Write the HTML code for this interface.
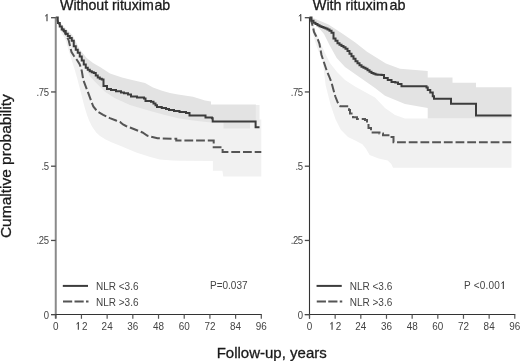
<!DOCTYPE html>
<html><head><meta charset="utf-8"><style>
html,body{margin:0;padding:0;background:#fff;}
svg{display:block;filter:grayscale(1);}
.t{font-family:"Liberation Sans",sans-serif;font-size:10.8px;fill:#444;}
.yt{letter-spacing:-0.4px;}
.l{font-family:"Liberation Sans",sans-serif;font-size:10px;fill:#444;}
.h{font-family:"Liberation Sans",sans-serif;font-size:15px;fill:#1a1a1a;stroke:#1a1a1a;stroke-width:0.3px;}
.ti{font-family:"Liberation Sans",sans-serif;font-size:14.2px;fill:#1a1a1a;stroke:#1a1a1a;stroke-width:0.3px;}
.yl{font-family:"Liberation Sans",sans-serif;font-size:15.5px;fill:#1a1a1a;stroke:#1a1a1a;stroke-width:0.3px;}
</style></head><body>
<svg width="520" height="361" viewBox="0 0 520 361">
<rect width="520" height="361" fill="#fff"/>
<polygon points="55.75,17.50 60.00,22.00 66.00,30.00 72.00,38.00 78.00,48.00 84.00,58.00 89.70,70.00 95.00,77.00 105.00,88.00 115.00,95.00 130.00,102.00 140.00,105.00 153.00,109.00 178.00,114.00 193.00,116.00 212.70,119.50 261.30,119.50 261.30,176.40 223.30,176.40 222.40,170.70 212.90,170.70 212.90,161.10 180.00,160.80 172.50,160.50 159.70,159.40 150.30,157.00 142.50,154.50 136.20,152.40 122.00,146.50 112.00,142.50 105.60,139.40 100.00,136.00 96.20,132.40 92.00,126.50 89.10,120.60 87.00,115.00 85.00,108.50 83.50,103.00 82.00,97.00 80.20,90.00 77.30,78.80 74.50,69.00 71.50,59.40 68.50,50.00 65.70,40.00 61.00,32.00 57.50,23.00 55.75,17.50" fill="#f1f1f1"/>
<polygon points="309.50,17.50 312.00,22.00 316.00,32.00 320.00,42.00 325.00,53.00 330.00,63.00 337.00,72.00 345.00,80.00 355.00,86.40 365.00,92.00 375.00,97.50 385.00,108.00 395.00,115.00 405.00,118.50 511.50,118.50 511.50,167.70 393.00,167.70 391.30,164.00 387.70,160.50 378.60,158.60 369.60,155.00 366.00,148.70 362.40,144.20 355.20,140.60 348.00,137.00 340.80,129.80 335.40,119.00 330.50,104.60 325.70,85.50 322.50,60.00 318.00,50.00 314.00,38.00 311.00,25.00 309.50,17.50" fill="#f1f1f1"/>
<polygon points="55.75,17.50 63.00,26.00 72.80,35.80 79.70,49.60 86.60,58.00 93.00,63.00 100.00,67.00 110.00,73.50 122.00,77.50 130.00,79.40 145.00,83.00 153.00,87.50 162.00,90.80 170.00,92.90 178.00,94.50 193.00,96.75 205.00,100.50 211.00,101.50 211.00,104.60 255.90,104.60 255.90,122.60 250.00,122.60 250.00,128.50 223.50,128.50 223.50,122.50 211.00,122.50 193.00,120.50 178.00,118.30 165.00,115.00 153.00,111.75 140.00,108.00 130.00,105.00 115.00,98.30 105.00,91.70 95.00,81.70 89.70,76.00 84.00,63.00 78.00,53.00 72.00,43.00 66.00,34.00 60.00,25.00 55.75,17.50" fill="#e3e3e3"/>
<polygon points="309.50,17.50 314.40,18.50 328.50,24.40 342.60,33.80 355.30,42.40 367.00,51.80 385.90,63.50 400.00,68.80 427.70,71.00 427.70,77.50 452.50,77.50 452.50,82.70 476.00,82.70 476.00,87.30 511.50,87.30 511.50,118.50 427.70,118.50 427.70,108.00 405.00,104.00 385.00,95.80 375.00,88.00 365.00,81.00 355.00,74.00 345.00,67.00 336.70,58.00 330.00,46.00 324.00,34.00 318.00,27.00 312.00,22.00 309.50,17.50" fill="#e3e3e3"/>
<rect x="255.9" y="105" width="3.6" height="16.6" fill="#ececec"/>
<path d="M55.75,17.50L58.00,22.00L62.00,28.00L65.00,33.00L67.00,37.00L68.60,40.00L70.00,46.00L71.50,52.00L74.00,56.00L77.00,60.00L79.50,64.00L81.00,68.00L81.80,71.00L83.30,80.00L85.80,86.60L88.30,93.20L90.80,99.90L93.30,106.50L97.40,111.50L103.20,114.80L109.90,118.10L116.00,120.50L120.00,122.00L123.00,124.50L126.00,126.00L130.00,127.50L135.00,129.50L142.50,132.50L147.50,135.75L157.50,138.25L172.50,138.75H176.25V140.50H213.70V147.30H222.60V152.10H261.30V152.10" fill="none" stroke="#555555" stroke-width="2" stroke-dasharray="8.8 2.9"/>
<path d="M309.50,17.50L311.00,20.00L313.00,27.00L314.00,32.00L316.00,36.00L318.00,40.00L319.50,44.00L321.50,55.00L324.00,62.50L326.50,70.00L329.00,76.00L331.50,82.50L333.50,90.00L335.25,96.25L337.75,102.50L340.25,106.25H347.75V106.25H349.00V110.00H350.00V113.60H353.00V117.20H357.00V119.00H365.00V120.00H367.00V123.50H368.50V128.00H371.00V132.50H379.50V133.40H383.00V135.20H389.50V137.00H393.50V142.20H511.50V142.20" fill="none" stroke="#555555" stroke-width="2" stroke-dasharray="8.8 2.9"/>
<path d="M55.75,17.50H57.75V23.12H59.75V26.50H61.75V29.38H63.75V30.94H65.75V33.75H67.75V36.00H69.75V38.00H71.75V40.75H73.75V46.16H75.75V49.66H77.75V52.74H79.75V56.50H81.75V60.58H83.75V64.51H85.75V67.71H87.75V69.76H89.75V71.31H91.75V72.19H93.75V72.98H95.75V75.44H97.75V77.52H99.75V78.86H101.75V79.50H102.50V79.50H103.50V86.00H107.00V89.00H111.00V90.00H116.00V91.20H121.00V92.50H124.00V93.20H128.00V94.60H131.00V96.50H137.00V97.50H144.00V98.50H145.50V100.90H151.00V101.80H153.50V103.50H155.50V105.20H157.00V107.10H161.75V108.00H166.00V109.00H169.00V110.00H174.00V111.00H179.50V112.10H186.00V113.00H189.50V115.60H204.50V115.60H205.50V117.50H211.90V118.20H212.70V121.60H255.30V121.60H255.60V127.20H259.50V127.20" fill="none" stroke="#3c3c3c" stroke-width="2"/>
<path d="M309.50,17.50H311.50V20.83H313.50V22.77H315.50V24.10H317.50V25.21H319.50V26.24H321.50V27.10H323.50V27.77H325.50V28.54H327.50V29.52H329.50V30.69H331.50V32.75H333.50V38.42H335.50V40.75H337.50V43.33H339.50V44.67H341.50V46.00H343.50V47.33H345.50V48.67H347.50V51.00H349.50V53.67H351.50V56.25H353.50V58.75H355.50V61.25H357.50V63.25H359.50V65.25H361.50V66.75H363.50V67.75H365.50V68.75H367.50V70.25H369.50V71.75H371.50V72.90H373.50V73.70H375.50V74.50H377.50V74.64H379.50V74.79H381.50V74.93H383.50V75.00H384.00V78.00H387.75V80.00H391.50V82.00H395.25V82.50H398.00V84.00H401.50V86.25H426.50V87.50H427.75V90.00H430.25V92.50H432.75V96.25H434.00V98.75H450.50V98.75H451.00V103.75H475.50V103.75H476.00V115.60H511.50V115.60" fill="none" stroke="#3c3c3c" stroke-width="2"/>
<line x1="55.75" y1="17.5" x2="55.75" y2="318.5" stroke="#8a8a8a" stroke-width="2"/>
<line x1="51.05" y1="314.5" x2="261.8" y2="314.5" stroke="#333" stroke-width="1.1"/>
<line x1="55.75" y1="314.5" x2="55.75" y2="318.8" stroke="#555" stroke-width="1.2"/>
<text transform="translate(55.75,329.8) scale(0.92,1)" text-anchor="middle" class="t">0</text>
<line x1="81.44" y1="314.5" x2="81.44" y2="318.8" stroke="#555" stroke-width="1.2"/>
<path d="M78.34,329.80V322.20" stroke="#444" stroke-width="1.15" fill="none"/><path d="M78.64,322.40L76.44,324.10" stroke="#444" stroke-width="1.0" fill="none"/>
<text transform="translate(82.04,329.8) scale(0.92,1)" class="t">2</text>
<line x1="107.14" y1="314.5" x2="107.14" y2="318.8" stroke="#555" stroke-width="1.2"/>
<text transform="translate(107.14,329.8) scale(0.92,1)" text-anchor="middle" class="t">24</text>
<line x1="132.83" y1="314.5" x2="132.83" y2="318.8" stroke="#555" stroke-width="1.2"/>
<text transform="translate(132.83,329.8) scale(0.92,1)" text-anchor="middle" class="t">36</text>
<line x1="158.53" y1="314.5" x2="158.53" y2="318.8" stroke="#555" stroke-width="1.2"/>
<text transform="translate(158.53,329.8) scale(0.92,1)" text-anchor="middle" class="t">48</text>
<line x1="184.22" y1="314.5" x2="184.22" y2="318.8" stroke="#555" stroke-width="1.2"/>
<text transform="translate(184.22,329.8) scale(0.92,1)" text-anchor="middle" class="t">60</text>
<line x1="209.91" y1="314.5" x2="209.91" y2="318.8" stroke="#555" stroke-width="1.2"/>
<text transform="translate(209.91,329.8) scale(0.92,1)" text-anchor="middle" class="t">72</text>
<line x1="235.61" y1="314.5" x2="235.61" y2="318.8" stroke="#555" stroke-width="1.2"/>
<text transform="translate(235.61,329.8) scale(0.92,1)" text-anchor="middle" class="t">84</text>
<line x1="261.30" y1="314.5" x2="261.30" y2="318.8" stroke="#555" stroke-width="1.2"/>
<text transform="translate(261.30,329.8) scale(0.92,1)" text-anchor="middle" class="t">96</text>
<line x1="51.05" y1="17.70" x2="55.75" y2="17.70" stroke="#4a4a4a" stroke-width="1.3"/>
<path d="M47.00,21.30V14.30" stroke="#444" stroke-width="1.15" fill="none"/><path d="M47.30,14.50L45.10,16.20" stroke="#444" stroke-width="1.0" fill="none"/>
<line x1="51.05" y1="91.95" x2="55.75" y2="91.95" stroke="#4a4a4a" stroke-width="1.3"/>
<text transform="translate(48.65,95.90) scale(0.88,1)" text-anchor="end" class="t yt">.75</text>
<line x1="51.05" y1="166.20" x2="55.75" y2="166.20" stroke="#4a4a4a" stroke-width="1.3"/>
<text transform="translate(48.65,170.15) scale(0.88,1)" text-anchor="end" class="t yt">.5</text>
<line x1="51.05" y1="240.45" x2="55.75" y2="240.45" stroke="#4a4a4a" stroke-width="1.3"/>
<text transform="translate(48.65,244.40) scale(0.88,1)" text-anchor="end" class="t yt">.25</text>
<line x1="51.05" y1="314.70" x2="55.75" y2="314.70" stroke="#4a4a4a" stroke-width="1.3"/>
<text transform="translate(48.65,318.65) scale(0.88,1)" text-anchor="end" class="t yt">0</text>
<line x1="309.5" y1="17.5" x2="309.5" y2="318.5" stroke="#333" stroke-width="1.1"/>
<line x1="304.8" y1="314.5" x2="515.3" y2="314.5" stroke="#333" stroke-width="1.1"/>
<line x1="309.50" y1="314.5" x2="309.50" y2="318.8" stroke="#555" stroke-width="1.2"/>
<text transform="translate(309.50,329.8) scale(0.92,1)" text-anchor="middle" class="t">0</text>
<line x1="335.16" y1="314.5" x2="335.16" y2="318.8" stroke="#555" stroke-width="1.2"/>
<path d="M332.06,329.80V322.20" stroke="#444" stroke-width="1.15" fill="none"/><path d="M332.36,322.40L330.16,324.10" stroke="#444" stroke-width="1.0" fill="none"/>
<text transform="translate(335.76,329.8) scale(0.92,1)" class="t">2</text>
<line x1="360.82" y1="314.5" x2="360.82" y2="318.8" stroke="#555" stroke-width="1.2"/>
<text transform="translate(360.82,329.8) scale(0.92,1)" text-anchor="middle" class="t">24</text>
<line x1="386.49" y1="314.5" x2="386.49" y2="318.8" stroke="#555" stroke-width="1.2"/>
<text transform="translate(386.49,329.8) scale(0.92,1)" text-anchor="middle" class="t">36</text>
<line x1="412.15" y1="314.5" x2="412.15" y2="318.8" stroke="#555" stroke-width="1.2"/>
<text transform="translate(412.15,329.8) scale(0.92,1)" text-anchor="middle" class="t">48</text>
<line x1="437.81" y1="314.5" x2="437.81" y2="318.8" stroke="#555" stroke-width="1.2"/>
<text transform="translate(437.81,329.8) scale(0.92,1)" text-anchor="middle" class="t">60</text>
<line x1="463.47" y1="314.5" x2="463.47" y2="318.8" stroke="#555" stroke-width="1.2"/>
<text transform="translate(463.47,329.8) scale(0.92,1)" text-anchor="middle" class="t">72</text>
<line x1="489.14" y1="314.5" x2="489.14" y2="318.8" stroke="#555" stroke-width="1.2"/>
<text transform="translate(489.14,329.8) scale(0.92,1)" text-anchor="middle" class="t">84</text>
<line x1="514.80" y1="314.5" x2="514.80" y2="318.8" stroke="#555" stroke-width="1.2"/>
<text transform="translate(514.80,329.8) scale(0.92,1)" text-anchor="middle" class="t">96</text>
<line x1="304.8" y1="17.70" x2="309.5" y2="17.70" stroke="#4a4a4a" stroke-width="1.3"/>
<path d="M300.75,21.30V14.30" stroke="#444" stroke-width="1.15" fill="none"/><path d="M301.05,14.50L298.85,16.20" stroke="#444" stroke-width="1.0" fill="none"/>
<line x1="304.8" y1="91.95" x2="309.5" y2="91.95" stroke="#4a4a4a" stroke-width="1.3"/>
<text transform="translate(302.80,95.90) scale(0.88,1)" text-anchor="end" class="t yt">.75</text>
<line x1="304.8" y1="166.20" x2="309.5" y2="166.20" stroke="#4a4a4a" stroke-width="1.3"/>
<text transform="translate(302.80,170.15) scale(0.88,1)" text-anchor="end" class="t yt">.5</text>
<line x1="304.8" y1="240.45" x2="309.5" y2="240.45" stroke="#4a4a4a" stroke-width="1.3"/>
<text transform="translate(302.80,244.40) scale(0.88,1)" text-anchor="end" class="t yt">.25</text>
<line x1="304.8" y1="314.70" x2="309.5" y2="314.70" stroke="#4a4a4a" stroke-width="1.3"/>
<text transform="translate(302.80,318.65) scale(0.88,1)" text-anchor="end" class="t yt">0</text>
<line x1="62.8" y1="285.9" x2="88" y2="285.9" stroke="#3c3c3c" stroke-width="2"/>
<line x1="63" y1="301.6" x2="88.5" y2="301.6" stroke="#555555" stroke-width="2" stroke-dasharray="9.2 2.3"/>
<text x="96" y="289.6" class="l">NLR &lt;3.6</text>
<text x="96" y="305.6" class="l">NLR &gt;3.6</text>
<text x="210" y="289" class="l">P=0.037</text>
<line x1="316.55" y1="285.9" x2="341.75" y2="285.9" stroke="#3c3c3c" stroke-width="2"/>
<line x1="316.75" y1="301.6" x2="342.25" y2="301.6" stroke="#555555" stroke-width="2" stroke-dasharray="9.2 2.3"/>
<text x="349.75" y="289.6" class="l">NLR &lt;3.6</text>
<text x="349.75" y="305.6" class="l">NLR &gt;3.6</text>
<text x="464" y="289" class="l" style="letter-spacing:0.2px">P &lt;0.00</text>
<path d="M503.35,288.90V281.50" stroke="#444" stroke-width="1.15" fill="none"/><path d="M503.65,281.70L501.45,283.40" stroke="#444" stroke-width="1.0" fill="none"/>
<text x="60" y="10.3" class="ti">Without rituxim<tspan dx="0.6">ab</tspan></text>
<text x="312.8" y="10.3" class="ti" style="font-size:14.4px">With rituxim<tspan dx="1.5">ab</tspan></text>
<text x="216.7" y="357.7" class="h">Follow-up, years</text>
<text transform="translate(11,238.1) rotate(-90)" class="yl">Cumaltive probability</text>
</svg>
</body></html>
